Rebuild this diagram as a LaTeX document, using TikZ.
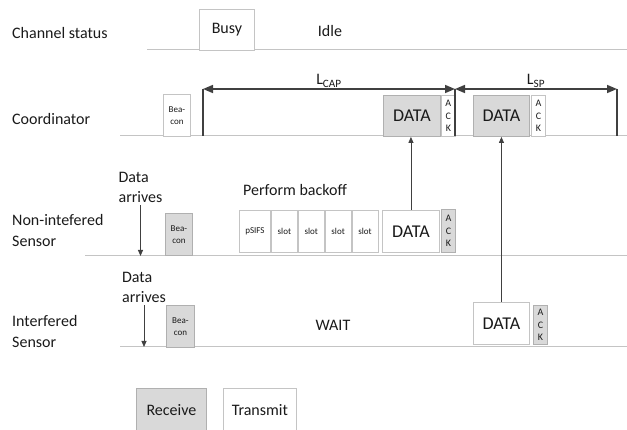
\documentclass[tikz,border=0pt]{standalone}
\usepackage{fontspec}
\setmainfont{Carlito}
\usetikzlibrary{arrows.meta,positioning}
\definecolor{linegray}{HTML}{C4C4C4}
\definecolor{boxgray}{HTML}{D9D9D9}
\definecolor{edgegray}{HTML}{B0B0B0}
\definecolor{darkline}{HTML}{404040}
\definecolor{ink}{HTML}{1A1A1A}
\tikzset{
  rowlabel/.style={font=\fontsize{16}{21}\selectfont, text=ink,
    inner sep=0pt, align=left, anchor=west},
  midlabel/.style={font=\fontsize{16}{20}\selectfont, text=ink, inner sep=0pt},
  txbox/.style={rectangle, draw=linegray, fill=white, line width=0.9pt,
    inner sep=0pt, align=center, anchor=north west, text=ink,
    font=\fontsize{18}{20}\selectfont},
  rxbox/.style={txbox, draw=edgegray, fill=boxgray},
  beacon/.style={#1, minimum width=27pt, minimum height=42pt,
    font=\fontsize{9}{12}\selectfont},
  beacon/.default=txbox,
  ackbox/.style={#1, minimum width=14pt, font=\fontsize{10}{12.5}\selectfont},
  ackbox/.default=txbox,
  slotbox/.style={txbox, minimum width=26pt, minimum height=42pt,
    font=\fontsize{9}{11}\selectfont},
  timeline/.style={draw=linegray, line width=1pt},
  bar/.style={draw=darkline, line width=1.6pt},
  span/.style={{Triangle[length=10pt,width=8pt]}-{Triangle[length=10pt,width=8pt]},
    draw=darkline, line width=1.6pt},
  dataarrow/.style={-{Triangle[length=6pt,width=5pt]}, draw=darkline, line width=0.8pt},
}

\begin{document}
\begin{tikzpicture}[x=1pt, y=-1pt]
  \useasboundingbox (0,0) rectangle (627,430);

  % row labels
  \node[rowlabel] (chlbl) at (12,33) {Channel status};
  \node[rowlabel] (colbl) at (12,119) {Coordinator};
  \node[rowlabel] (nilbl) at (12,231) {Non-intefered\\Sensor};
  \node[rowlabel] (inlbl) at (12,332) {Interfered\\Sensor};

  % time lines
  \coordinate (chline) at (147,50);
  \coordinate (coline) at (120,136);
  \coordinate (niline) at (85,256);
  \coordinate (inline) at (120,347);
  \foreach \l in {chline,coline,niline,inline} {
    \draw[timeline] (\l) -- (627,0 |- \l);
  }

  % channel status
  \node[txbox, minimum width=55pt, minimum height=41pt,
    font=\fontsize{16}{18}\selectfont] (busy) at (199,9) {Busy};
  \node[midlabel] (idle) at (330,31) {Idle};

  % coordinator
  \node[beacon] (cbea) at (163,94) {Bea-\\con};
  \node[rxbox, minimum width=57pt, minimum height=41pt] (cdata) at (383,95) {DATA};
  \node[ackbox, minimum height=41pt, right=0pt of cdata] (cack) {A\\C\\K};
  \node[rxbox, minimum width=56pt, minimum height=41pt] (cdata2) at (473,95) {DATA};
  \node[ackbox, minimum height=41pt] (cack2) at (531,95) {A\\C\\K};

  % CAP and SP spans
  \coordinate (capstart) at (203,89);
  \coordinate (capend) at (455,89);
  \coordinate (spend) at (617,89);
  \foreach \c in {capstart,capend,spend} {
    \draw[bar] (\c) -- (\c |- coline);
  }
  \draw[span] (capstart) -- (capend)
    node[midway, above=1pt, midlabel] (lcap) {L\textsubscript{CAP}};
  \draw[span] (capend) -- (spend)
    node[midway, above=1pt, midlabel] (lsp) {L\textsubscript{SP}};

  % non-interfered sensor
  \node[midlabel, align=left] (arrive1) at (140.5,187) {Data\\arrives};
  \draw[dataarrow] (arrive1.south) ++(0,3) -- (arrive1.south |- niline);
  \node[beacon=rxbox] (nbea) at (165,213) {Bea-\\con};
  \node[midlabel] (backoff) at (295,190) {Perform backoff};
  \node[slotbox, minimum width=31pt] (psifs) at (239,210) {pSIFS};
  \node[slotbox, right=0pt of psifs] (slot1) {slot};
  \node[slotbox, right=0pt of slot1] (slot2) {slot};
  \node[slotbox, right=0pt of slot2] (slot3) {slot};
  \node[slotbox, right=0pt of slot3] (slot4) {slot};
  \node[txbox, minimum width=57pt, minimum height=42pt] (ndata) at (382,210) {DATA};
  \node[ackbox=rxbox, minimum height=43pt] (nack) at (441,209) {A\\C\\K};
  \draw[dataarrow] (ndata.north) -- (ndata.north |- cdata.south);

  % interfered sensor
  \node[midlabel, align=left] (arrive2) at (144,287) {Data\\arrives};
  \draw[dataarrow] (arrive2.south) ++(0,3) -- (arrive2.south |- inline);
  \node[beacon=rxbox, minimum width=28pt] (ibea) at (166,305) {Bea-\\con};
  \node[midlabel] (wait) at (333,325) {WAIT};
  \node[txbox, minimum width=56pt, minimum height=42pt] (idata) at (473,302) {DATA};
  \node[ackbox=rxbox, minimum height=39pt] (iack) at (533,305) {A\\C\\K};
  \draw[dataarrow] (idata.north) -- (idata.north |- cdata2.south);

  % legend
  \node[rxbox, minimum width=70pt, minimum height=52pt,
    font=\fontsize{16}{18}\selectfont, text depth=0pt] (receive) at (136,388) {\raisebox{8pt}{Receive}};
  \node[txbox, minimum width=73pt, minimum height=52pt,
    font=\fontsize{16}{18}\selectfont, right=16pt of receive] (transmit) {\raisebox{8pt}{Transmit}};
\end{tikzpicture}
\end{document}
